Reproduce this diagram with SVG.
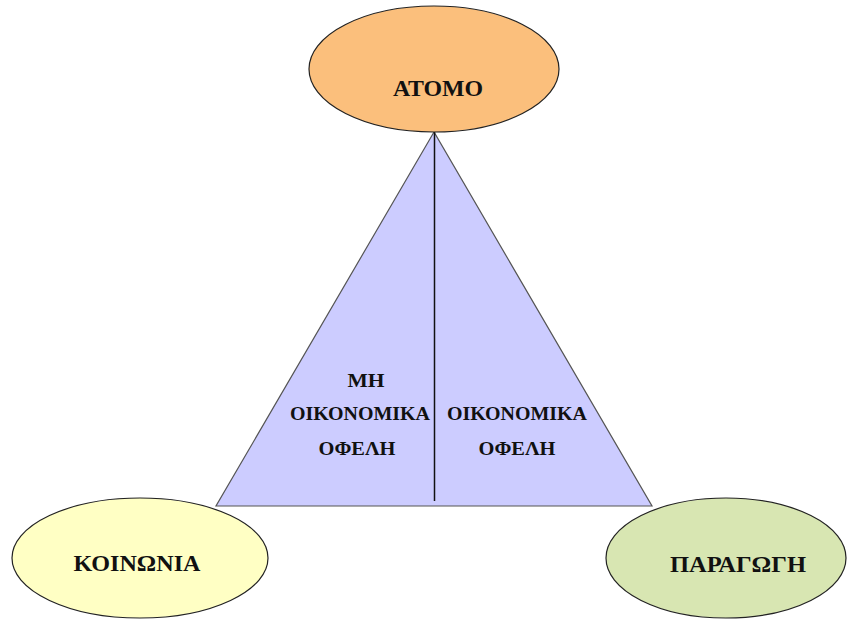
<svg xmlns="http://www.w3.org/2000/svg" width="848" height="619" viewBox="0 0 848 619">
  <style>
    .node { stroke: #222; stroke-width: 1.2; }
    .lbl { font-family: "Liberation Serif", "Times New Roman", serif; font-weight: bold; fill: #111; text-anchor: middle; }
    .big { font-size: 24px; }
    .small { font-size: 19px; }
  </style>
  <rect width="848" height="619" fill="#fff"/>
  <g id="connectors">
    <polygon points="434,132 216,506 652,506" fill="#ccccff" stroke="#555" stroke-width="1.2"/>
    <line x1="434.5" y1="132" x2="434.5" y2="501" stroke="#111" stroke-width="1.5"/>
  </g>
  <g id="benefits">
    <text class="lbl small" x="366" y="387" textLength="37" lengthAdjust="spacingAndGlyphs">ΜΗ</text>
    <text class="lbl small" x="360" y="420" textLength="140" lengthAdjust="spacingAndGlyphs">ΟΙΚΟΝΟΜΙΚΑ</text>
    <text class="lbl small" x="357" y="455" textLength="77" lengthAdjust="spacingAndGlyphs">ΟΦΕΛΗ</text>
    <text class="lbl small" x="517" y="420" textLength="140" lengthAdjust="spacingAndGlyphs">ΟΙΚΟΝΟΜΙΚΑ</text>
    <text class="lbl small" x="517" y="455" textLength="77" lengthAdjust="spacingAndGlyphs">ΟΦΕΛΗ</text>
  </g>
  <g id="atomo">
    <ellipse class="node" cx="434" cy="69" rx="125" ry="63" fill="#fbbf7c"/>
    <text class="lbl big" x="438" y="96" textLength="90" lengthAdjust="spacingAndGlyphs">ΑΤΟΜΟ</text>
  </g>
  <g id="koinonia">
    <ellipse class="node" cx="140" cy="558" rx="128" ry="60" fill="#ffffc4"/>
    <text class="lbl big" x="137" y="571" textLength="127" lengthAdjust="spacingAndGlyphs">ΚΟΙΝΩΝΙΑ</text>
  </g>
  <g id="paragogi">
    <ellipse class="node" cx="726" cy="558" rx="120" ry="60" fill="#d8e6b2"/>
    <text class="lbl big" x="738" y="572" textLength="136" lengthAdjust="spacingAndGlyphs">ΠΑΡΑΓΩΓΗ</text>
  </g>
</svg>
